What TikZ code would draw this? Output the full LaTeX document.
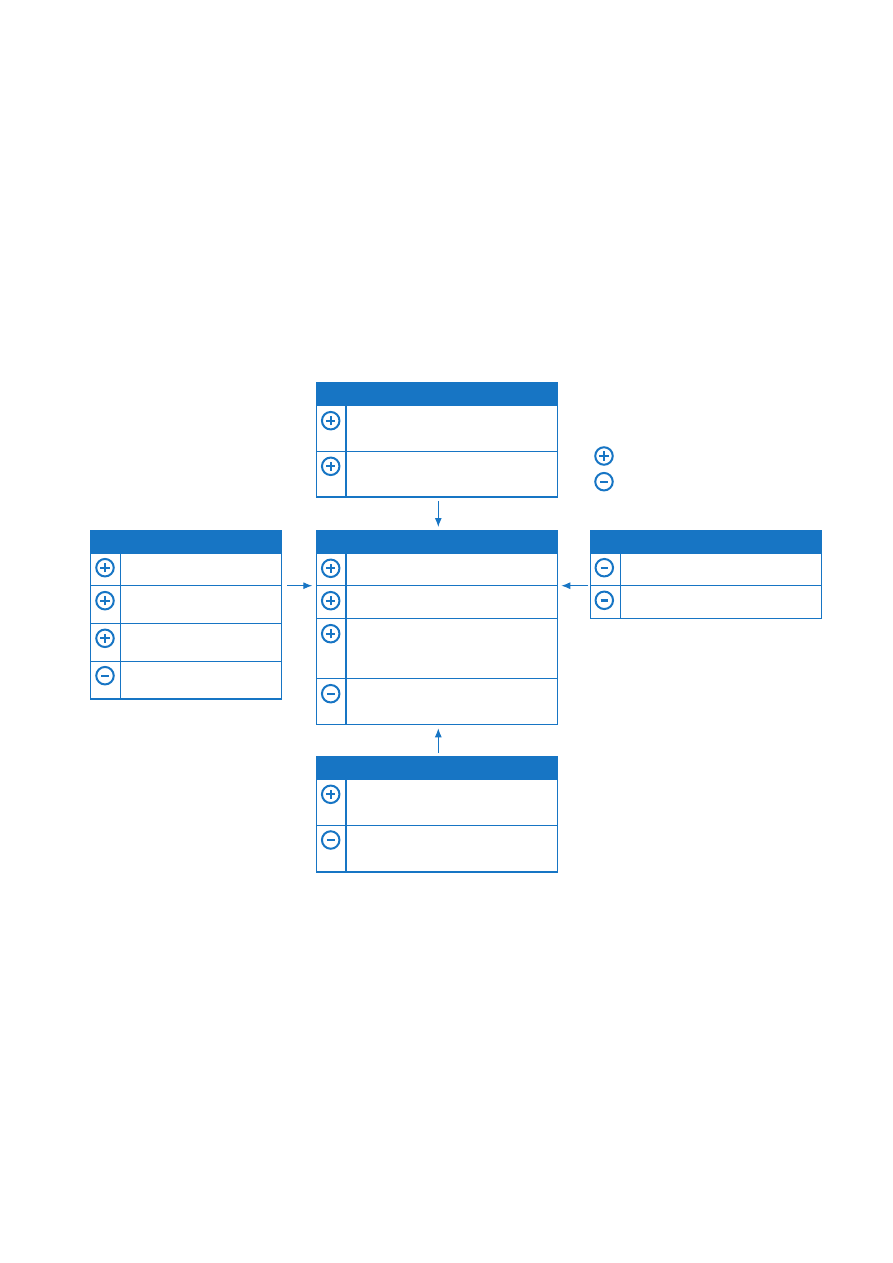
\documentclass[tikz,border=0pt]{standalone}
\usepackage{tikz}
\usetikzlibrary{positioning,arrows.meta}
\definecolor{procblue}{RGB}{23,117,196}

\tikzset{
  tbl/.style={draw=procblue, line width=1.1pt, inner sep=0pt, outer sep=0pt, anchor=north west},
  hdr/.style={fill=procblue, inner sep=0pt, outer sep=0pt, anchor=north west, minimum height=22.7pt},
  rowline/.style={draw=procblue, line width=1.1pt},
  icon/.style={circle, draw=procblue, line width=2pt, minimum size=17.5pt, inner sep=0pt},
  plusicon/.style={icon, path picture={
      \draw[procblue, line width=1.9pt] ([xshift=-4.6pt]path picture bounding box.center) -- ++(9.2pt,0);
      \draw[procblue, line width=1.9pt] ([yshift=-4.6pt]path picture bounding box.center) -- ++(0,9.2pt);}},
  minusicon/.style={icon, path picture={
      \draw[procblue, line width=2.4pt] ([xshift=-3.8pt]path picture bounding box.center) -- ++(7.6pt,0);}},
  flow/.style={draw=procblue, line width=1pt, -{Latex[length=9pt,width=7pt]}}
}

\begin{document}
\begin{tikzpicture}[x=1pt, y=-1pt]
    \useasboundingbox (0,0) rectangle (893,1263);

    % Top table - two rows
    \node[tbl, minimum width=241pt, minimum height=114pt] (ttop) at (316.3,383) {};
    \node[hdr, minimum width=241pt] (ttophead) at (ttop.north west) {};
    \draw[rowline] (316.3,451.3) -- (557.3,451.3);
    \draw[rowline] (346,405) -- (346,497);
    \node[plusicon] (tp1) at (330.7,420.7) {};
    \node[plusicon] (tp2) at (330.7,466.3) {};

    % Legend
    \node[plusicon] (lgplus) at (604,456) {};
    \node[minusicon] (lgminus) at (604,481.7) {};

    % Left table - four rows
    \node[tbl, minimum width=191pt, minimum height=168pt] (tleft) at (90.3,531) {};
    \node[hdr, minimum width=191pt] (tlefthead) at (tleft.north west) {};
    \foreach \y in {585.7,623.3,661.3}
        \draw[rowline] (90.3,\y) -- (281.3,\y);
    \draw[rowline] (120.3,553.7) -- (120.3,699);
    \node[plusicon] (lf1) at (105,567.7) {};
    \node[plusicon] (lf2) at (105,600.7) {};
    \node[plusicon] (lf3) at (105,638.3) {};
    \node[minusicon] (lf4) at (105,675.7) {};

    % Centre table - four rows
    \node[tbl, minimum width=241pt, minimum height=193.3pt] (tmid) at (316.3,531) {};
    \node[hdr, minimum width=241pt] (tmidhead) at (tmid.north west) {};
    \foreach \y in {585.3,618.7,678.3}
        \draw[rowline] (316.3,\y) -- (557.3,\y);
    \draw[rowline] (346,553.7) -- (346,724.3);
    \node[plusicon] (md1) at (330.7,568.3) {};
    \node[plusicon] (md2) at (330.7,600.7) {};
    \node[plusicon] (md3) at (330.7,633.7) {};
    \node[minusicon] (md4) at (330.7,693.7) {};

    % Right table - two rows
    \node[tbl, minimum width=231pt, minimum height=87.3pt] (tright) at (590.3,531) {};
    \node[hdr, minimum width=231pt] (trighthead) at (tright.north west) {};
    \draw[rowline] (590.3,585.3) -- (821.3,585.3);
    \draw[rowline] (620.3,553.7) -- (620.3,618.3);
    \node[minusicon] (rt1) at (604.3,567.7) {};
    \node[minusicon] (rt2) at (604.3,600.3) {};

    % Bottom table - two rows
    \node[tbl, minimum width=241pt, minimum height=115pt] (tbot) at (316.3,757) {};
    \node[hdr, minimum width=241pt] (tbothead) at (tbot.north west) {};
    \draw[rowline] (316.3,825.3) -- (557.3,825.3);
    \draw[rowline] (346,779.7) -- (346,872);
    \node[plusicon] (bt1) at (330.7,794.3) {};
    \node[minusicon] (bt2) at (330.7,840) {};

    % Arrows into the centre table
    \draw[flow, shorten <=4pt, shorten >=4pt] ([xshift=1.5pt]ttop.south) -- ([xshift=1.5pt]tmid.north);
    \draw[flow, shorten <=4pt, shorten >=4pt] ([xshift=1.5pt]tbot.north) -- ([xshift=1.5pt]tmid.south);
    \draw[flow, shorten <=6pt, shorten >=4pt] ([yshift=-54.7pt]tleft.north east) -- ([yshift=-54.7pt]tmid.north west);
    \draw[flow, shorten <=2pt, shorten >=4pt] ([yshift=-54.7pt]tright.north west) -- ([yshift=-54.7pt]tmid.north east);
\end{tikzpicture}
\end{document}
